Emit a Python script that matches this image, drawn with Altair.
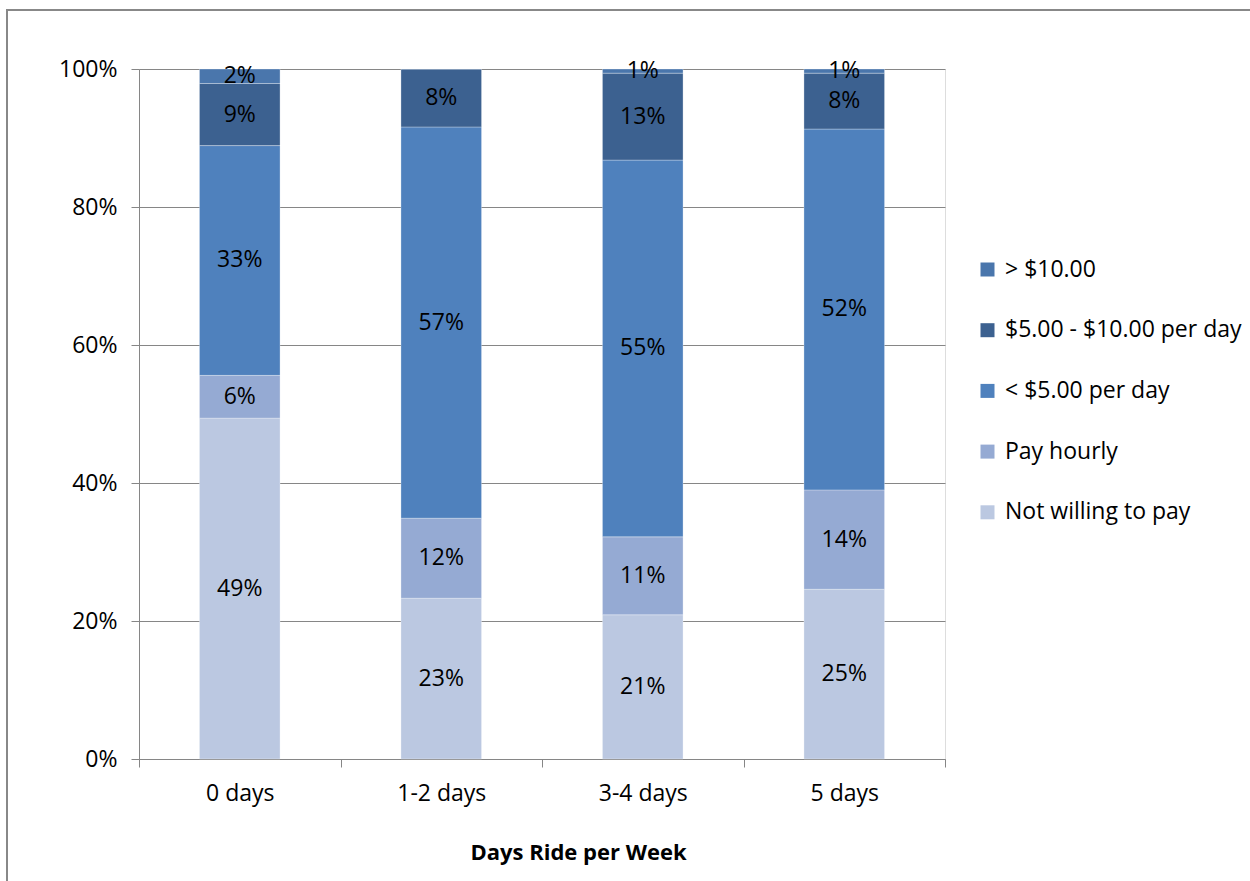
import altair as alt
import pandas as pd

days = ["0 days", "1-2 days", "3-4 days", "5 days"]
series = ["> $10.00", "$5.00 - $10.00 per day", "< $5.00 per day", "Pay hourly", "Not willing to pay"]
colors = ["#4A76AC", "#3C6190", "#4F81BD", "#95AAD3", "#BBC8E1"]

not_willing = [49.4, 23.3, 20.9, 24.6]
pay_hourly = [6.2, 11.6, 11.3, 14.4]
under5 = [33.3, 56.7, 54.6, 52.3]
five_ten = [9.0, 8.4, 12.6, 8.1]
over10 = [2.1, 0.0, 0.6, 0.6]

stack_order = ["Not willing to pay", "Pay hourly", "< $5.00 per day", "$5.00 - $10.00 per day", "> $10.00"]
vals = {
    "Not willing to pay": not_willing,
    "Pay hourly": pay_hourly,
    "< $5.00 per day": under5,
    "$5.00 - $10.00 per day": five_ten,
    "> $10.00": over10,
}
rows = []
for i, d in enumerate(days):
    for k, s in enumerate(stack_order):
        rows.append({"days": d, "series": s, "value": vals[s][i] / 100.0, "rank": k})
df = pd.DataFrame(rows)

FONT = "Open Sans"
FS = 23

base = alt.Chart(df).transform_stack(
    stack="value", groupby=["days"], as_=["y0", "y1"], sort=[alt.SortField("rank", order="ascending")]
).transform_calculate(ymid="(datum.y0 + datum.y1) / 2")

xenc = alt.X("days:N", sort=days, title="Days Ride per Week",
             scale=alt.Scale(paddingInner=0, paddingOuter=0),
             axis=alt.Axis(labelAngle=0, labelFontSize=FS, labelFont=FONT, labelColor="#000000",
                           labelPadding=15, tickBand="extent", tickSize=8, tickColor="#868686",
                           domainColor="#868686", titleFontSize=22, titleFont=FONT,
                           titleFontWeight="bold", titleColor="#000000", titlePadding=37,
                           titleX=439, grid=False))

bars = base.mark_bar(width=alt.RelativeBandSize(0.4), stroke="white", strokeWidth=0.6, strokeOpacity=0.5).encode(
    x=xenc,
    y=alt.Y("y0:Q", scale=alt.Scale(domain=[0, 1]), title=None,
            axis=alt.Axis(values=[0, 0.2, 0.4, 0.6, 0.8, 1.0], format=".0%", labelFontSize=FS,
                          labelFont=FONT, labelColor="#000000", tickSize=8, tickColor="#868686",
                          domainColor="#868686", gridColor="#868686", gridWidth=1, labelPadding=14)),
    y2="y1:Q",
    color=alt.Color("series:N", scale=alt.Scale(domain=series, range=colors),
                    legend=alt.Legend(title=None, orient="none", legendX=837, legendY=189,
                                      symbolType="square", symbolSize=196, symbolStrokeWidth=0,
                                      labelFontSize=FS, labelFont=FONT, labelColor="#000000",
                                      labelOffset=6, rowPadding=36.7, labelLimit=0)),
)

labels = base.transform_filter("datum.value > 0").mark_text(
    fontSize=FS, font=FONT, color="#000000", baseline="middle"
).encode(
    x=alt.X("days:N", sort=days),
    y=alt.Y("ymid:Q"),
    text=alt.Text("value:Q", format=".0%"),
)

border = alt.Chart(pd.DataFrame({"a": [0]})).mark_rect(
    fill=None, stroke="#888888", strokeWidth=2
).encode(x=alt.value(-132), x2=alt.value(1120), y=alt.value(-59), y2=alt.value(830))

chart = alt.layer(border, bars, labels).properties(
    width=806, height=690,
    autosize=alt.AutoSizeParams(type="none"),
    padding={"left": 139, "top": 69, "right": 305, "bottom": 122},
).configure_view(stroke=None).configure(background="white")

chart.save("out.html", embed_options={"renderer": "svg", "actions": False})
